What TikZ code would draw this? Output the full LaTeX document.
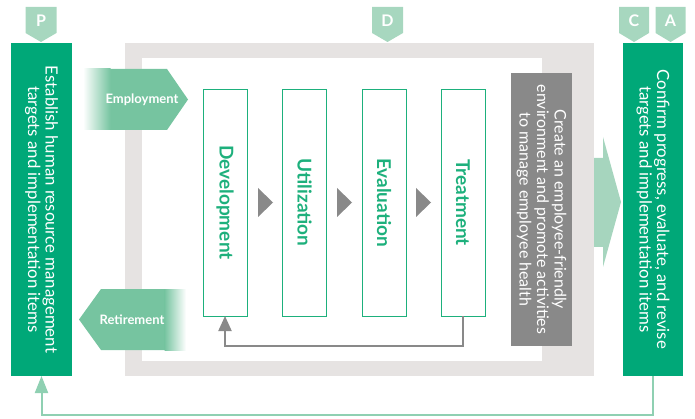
\documentclass[tikz,border=0pt]{standalone}
\usepackage{fontspec}
\setmainfont{Lato}
\usetikzlibrary{arrows.meta,calc}
\definecolor{deepgreen}{HTML}{00A878}
\definecolor{taggreen}{HTML}{A7D7BF}
\definecolor{arrowgreen}{HTML}{76C4A0}
\definecolor{paleflow}{HTML}{A6D5BE}
\definecolor{linegreen}{HTML}{8FD0B2}
\definecolor{boxgreen}{HTML}{1DB07C}
\definecolor{framegray}{HTML}{E6E3E2}
\definecolor{darkgray}{HTML}{898989}
\tikzset{
    every picture/.style={line join=miter},
    phasebox/.style={fill=deepgreen,text=white,rotate=-90,
      minimum width=333pt,minimum height=61pt,inner sep=0pt,outer sep=0pt,
      align=center,font=\fontsize{16.8}{17.5}\selectfont},
    stagebox/.style={draw=boxgreen,fill=white,line width=0.9pt,rotate=-90,
      minimum width=227pt,minimum height=44pt,inner sep=0pt,outer sep=0pt,
      text=boxgreen,font=\bfseries\fontsize{19}{19}\selectfont},
    healthbox/.style={fill=darkgray,text=white,rotate=-90,
      minimum width=273pt,minimum height=61pt,inner sep=0pt,outer sep=0pt,
      align=center,font=\fontsize{16}{17.5}\selectfont},
    tagshape/.style={fill=taggreen},
    taglabel/.style={text=white,inner sep=0pt,font=\bfseries\fontsize{16}{16}\selectfont},
    hrarrow/.style={fill=arrowgreen},
    hrlabel/.style={text=white,inner sep=0pt,font=\bfseries\fontsize{13}{13}\selectfont},
    loopline/.style={draw=darkgray,line width=2pt,
      -{Triangle[length=15pt,width=13pt]}},
    cycleline/.style={draw=linegreen,line width=2pt,
      -{Triangle[length=17pt,width=13pt]}}
}

\begin{document}
\begin{tikzpicture}[x=1pt,y=-1pt]
    \useasboundingbox (0,0) rectangle (695,419);
    % Do frame
    \fill[framegray] (125,43) rectangle (594,376);
    \fill[white] (142,58) rectangle (542,361);
    % phase tags
    \fill[tagshape] (25.5,7) -- ++(31,0) -- ++(0,26) -- ++(-15.5,9) -- ++(-15.5,-9) -- cycle;
    \node[taglabel] (tagP) at (41,21) {P};
    \fill[tagshape] (372,7) -- ++(31,0) -- ++(0,26) -- ++(-15.5,9) -- ++(-15.5,-9) -- cycle;
    \node[taglabel] (tagD) at (387.5,21) {D};
    \fill[tagshape] (619,7) -- ++(30,0) -- ++(0,26) -- ++(-15,9) -- ++(-15,-9) -- cycle;
    \node[taglabel] (tagC) at (634,21) {C};
    \fill[tagshape] (655.5,7) -- ++(30,0) -- ++(0,26) -- ++(-15,9) -- ++(-15,-9) -- cycle;
    \node[taglabel] (tagA) at (670.5,21) {A};
    % plan and check/act columns (rotated: east anchor is the bottom)
    \node[phasebox] (planbox) at (41.5,209.5)
        {Establish human resource management\\targets and implementation items};
    \node[phasebox,minimum height=60pt] (reviewbox) at (653,209.5)
        {Confirm progress, evaluate, and revise\\targets and implementation items};
    % employment / retirement
    \fill[hrarrow] (110,69) -- (167,69) -- (188,99.5) -- (167,130) -- (110,130) -- cycle;
    \shade[left color=white,right color=arrowgreen] (83,69) rectangle (110.5,130);
    \node[hrlabel] (employ) at (142,99.5) {Employment};
    \fill[hrarrow] (165,289) -- (101,289) -- (79,319.5) -- (101,350) -- (165,350) -- cycle;
    \shade[left color=arrowgreen,right color=white] (164.5,289) rectangle (186,350);
    \node[hrlabel] (retire) at (132,319.5) {Retirement};
    % stages
    \node[stagebox] (devbox) at (225,202.5) {Development};
    \node[stagebox] (utilbox) at (304.5,202.5) {Utilization};
    \node[stagebox] (evalbox) at (384,202.5) {Evaluation};
    \node[stagebox] (treatbox) at (463,202.5) {Treatment};
    \fill[darkgray] (258,188) -- (273,202.5) -- (258,217) -- cycle;
    \fill[darkgray] (337,188) -- (352,202.5) -- (337,217) -- cycle;
    \fill[darkgray] (416,188) -- (431,202.5) -- (416,217) -- cycle;
    \draw[loopline] (treatbox.east) -- ++(0,30) -| (devbox.east);
    \node[healthbox] (health) at (541.5,209.5)
        {Create an employee-friendly\\environment and promote activities\\to manage employee health};
    % flow into check
    \fill[paleflow] (594,158) -- (603,158) -- (603,137) -- (621,202) -- (603,267)
        -- (603,247) -- (594,247) -- cycle;
    % back to plan
    \draw[cycleline] (reviewbox.east) -- ++(0,39) -| (planbox.east);
\end{tikzpicture}
\end{document}
